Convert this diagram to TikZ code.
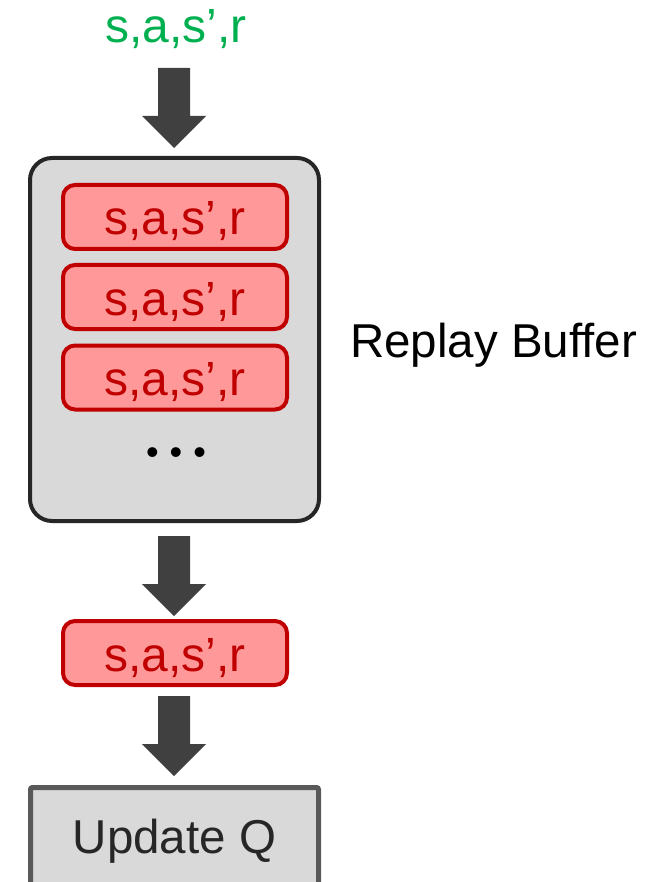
\documentclass[tikz,border=0pt]{standalone}
\usepackage{fontspec}
\setmainfont{Liberation Sans}
\usetikzlibrary{calc}

\definecolor{bufferfill}{HTML}{D9D9D9}
\definecolor{bufferline}{HTML}{262626}
\definecolor{tuplefill}{HTML}{FF9999}
\definecolor{tupleline}{HTML}{C00000}
\definecolor{incoming}{HTML}{00B050}
\definecolor{arrowgray}{HTML}{404040}
\definecolor{updateline}{HTML}{595959}
\definecolor{labeltext}{HTML}{262626}

% Thick block arrow: #1 = top of the shaft, #2 = tip
\newcommand\flowarrow[2]{%
  \fill[arrowgray]
    ($(#1)+(-16,0)$) -- ($(#1)+(16,0)$) -- ($(#2)+(16,-32)$) --
    ($(#2)+(32,-32)$) -- (#2) -- ($(#2)+(-32,-32)$) --
    ($(#2)+(-16,-32)$) -- cycle;}

\begin{document}
\begin{tikzpicture}[x=1pt,y=-1pt,
  bigfont/.style={font=\fontsize{48}{58}\selectfont},
  tuple/.style={draw=tupleline, fill=tuplefill, line width=4pt,
    rounded corners=12pt, minimum width=224pt, inner sep=0pt, outer sep=0pt,
    text height=50pt, text depth=14pt, text=tupleline, bigfont, anchor=north},
  buffer/.style={draw=bufferline, fill=bufferfill, line width=4pt,
    rounded corners=22pt, minimum width=289pt, minimum height=363pt,
    inner sep=0pt, outer sep=0pt, anchor=north},
  updatebox/.style={draw=updateline, fill=bufferfill, line width=5pt,
    rounded corners=2pt, minimum width=288pt, inner sep=0pt, outer sep=0pt,
    text height=65.5pt, text depth=80pt, anchor=north, text=labeltext,
    font=\fontsize{47.5}{58}\selectfont}]

\useasboundingbox (0,0) rectangle (669,882);
\clip (0,0) rectangle (669,882);

% incoming transition
\node[bigfont, text=incoming, anchor=base, inner sep=0pt] (in) at (176,43) {s,a,s’,r};

% replay buffer with stored transitions
\node[buffer] (buffer) at (174.5,158) {};
\node[tuple] (t1) at (175,185) {s,a,s’,r};
\node[tuple] (t2) at (175,265) {s,a,s’,r};
\node[tuple] (t3) at (175,345.5) {s,a,s’,r};
\node[font=\fontsize{36}{40}\selectfont, anchor=center, inner sep=0pt]
  (more) at (176,456) {•\kern11pt•\kern11pt•};
\node[font=\fontsize{47.5}{58}\selectfont, anchor=base west, inner sep=0pt]
  (bufferlabel) at (350,357) {Replay Buffer};

% sampled transition and update step
\node[tuple] (sample) at (175,621) {s,a,s’,r};
\node[updatebox] (update) at (174.5,787.5) {Update Q};

% arrows between the stages
\coordinate (a1top) at ($(in.base)+(-2,25)$);
\coordinate (a1tip) at ($(buffer.north)+(-0.5,-10)$);
\coordinate (a2top) at ($(buffer.south)+(-0.5,15)$);
\coordinate (a2tip) at ($(sample.north)+(-1,-5)$);
\coordinate (a3top) at ($(sample.south)+(-1,11)$);
\coordinate (a3tip) at ($(update.north)+(-0.5,-11.5)$);
\flowarrow{a1top}{a1tip}
\flowarrow{a2top}{a2tip}
\flowarrow{a3top}{a3tip}
\end{tikzpicture}
\end{document}
